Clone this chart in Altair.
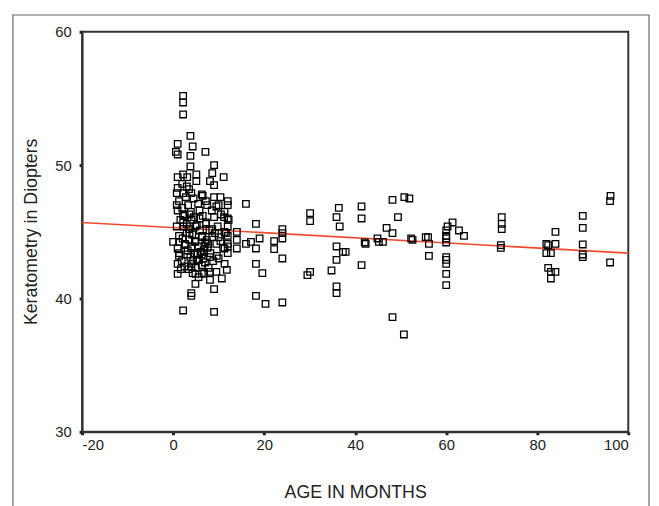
import altair as alt
import pandas as pd

# Scatter data: age in months vs keratometry (D)
age = [
    96.1, 96.0, 96.0, 90.0, 90.0, 90.0, 90.0, 90.0, 84.0, 84.0, 84.0, 82.0, 82.4, 82.0, 83.0, 82.4, 83.0, 83.0,
    72.2, 72.2, 72.2, 72.0, 72.0, 61.4, 62.8, 63.9, 60.3, 60.0, 60.0, 60.0, 60.0, 60.0, 60.0, 60.0, 60.0, 60.0,
    56.0, 55.5, 56.2, 56.2, 52.3, 52.6, 50.8, 51.9, 48.2, 49.4, 46.9, 48.2, 44.9, 45.2, 46.1, 42.1, 42.3,
    41.4, 41.4, 41.4, 48.2, 50.7, 36.4, 35.9, 36.6, 35.9, 37.3, 37.9, 35.9, 34.8, 35.9, 35.9,
    30.1, 30.1, 29.5, 30.1, 24.0, 24.0, 24.0, 24.0, 24.0, 22.2, 22.2, 20.3, 19.6, 19.0, 18.2, 18.2, 18.2, 18.2,
    17.1, 16.0, 16.0, 14.0, 14.0, 14.0,
    2.2, 2.2, 2.2, 3.8, 4.3, 1.0, 0.6, 1.0, 3.8, 7.1, 3.8, 9.0, 8.6, 9.0, 11.1, 5.1, 5.1, 1.0, 2.2, 3.1,
    8.1, 1.0, 0.8, 2.2, 4.0, 6.3, 9.0, 10.4, 12.0, 12.0, 10.0, 7.2, 1.3, 0.8, 1.0, 2.2, 3.6, 11.3, 12.0,
    9.0, 5.8, 4.0, 2.2, 7.2, 0.8, 4.9, 8.6, 12.0, 11.3, 3.6, 1.3, 6.3, 10.0, 12.0, 0.0, 1.3, 2.6, 4.9,
    7.7, 9.5, 12.0, 1.0, 4.0, 6.7, 11.3, 12.0, 1.3, 3.1, 5.4, 8.1, 10.0, 1.0, 4.0, 6.3, 11.3, 4.0, 11.8,
    8.1, 9.5, 1.0, 4.9, 6.3, 1.7, 10.7, 8.1, 4.9, 9.0, 4.0, 4.0, 2.2, 9.0,
    2.0, 2.5, 3.0, 3.5, 4.2, 4.8, 5.5, 6.0, 6.6, 7.0,
    2.8, 3.3, 3.9, 4.6, 5.2, 5.9, 6.4, 7.1, 7.6, 8.2,
    2.1, 2.7, 3.2, 3.8, 4.4, 5.0, 5.7, 6.3, 6.9, 7.4,
    1.6, 2.3, 3.0, 3.6, 4.1, 4.7, 5.3, 5.8, 6.5, 7.2,
    8.0, 8.6, 9.2, 9.8, 10.4, 11.0, 11.6, 12.2, 12.0, 11.2,
    1.3, 1.9, 2.5, 3.4, 4.3, 5.6, 6.8, 7.8, 8.8, 9.6,
    3.5, 4.5, 5.5, 6.5, 7.5, 8.5, 9.5, 10.5, 2.0, 3.0,
]
kerat = [
    47.7, 47.3, 42.7, 46.2, 45.3, 44.05, 43.3, 43.1, 45.0, 44.1, 42.0, 44.1, 44.0, 43.4, 43.4, 42.3, 42.0, 41.5,
    46.1, 45.6, 45.2, 44.0, 43.8, 45.7, 45.1, 44.7, 45.4, 45.1, 44.7, 44.5, 44.2, 43.1, 42.9, 42.6, 41.85, 41.0,
    44.6, 44.6, 44.1, 43.2, 44.5, 44.4, 47.6, 47.5, 47.4, 46.1, 45.3, 44.9, 44.5, 44.25, 44.25, 44.2, 44.1,
    46.9, 46.0, 42.5, 38.6, 37.3, 46.8, 46.1, 45.4, 43.9, 43.5, 43.5, 42.9, 42.1, 40.9, 40.4,
    46.4, 45.8, 41.75, 42.0, 45.2, 44.9, 44.5, 43.0, 39.7, 44.3, 43.7, 39.6, 41.9, 44.5, 45.6, 43.75, 42.6, 40.2,
    44.25, 44.1, 47.1, 45.0, 44.4, 43.75,
    55.2, 54.7, 53.8, 52.2, 51.4, 51.6, 51.0, 50.8, 50.7, 51.0, 49.9, 50.0, 49.4, 48.5, 49.1, 49.3, 48.8, 49.1, 49.3, 49.1,
    48.8, 48.3, 47.9, 47.9, 47.9, 47.8, 47.6, 47.6, 47.3, 47.0, 47.0, 47.3, 47.3, 47.0, 46.6, 46.3, 46.3, 46.5, 46.0,
    46.1, 46.0, 45.9, 45.7, 45.7, 45.4, 45.4, 45.2, 45.4, 45.0, 44.9, 44.7, 44.6, 44.6, 44.7, 44.25, 44.25, 44.1, 44.25,
    44.1, 44.1, 44.1, 43.75, 43.75, 43.6, 43.75, 43.4, 43.4, 43.3, 43.3, 43.1, 43.0, 42.6, 42.6, 42.5, 42.6, 42.4, 42.15,
    42.0, 42.0, 41.85, 41.85, 41.85, 42.2, 41.5, 41.4, 41.1, 40.7, 40.4, 40.2, 39.1, 39.0,
    46.8, 46.2, 45.6, 45.2, 44.8, 44.3, 43.9, 43.5, 43.0, 42.7,
    47.6, 47.0, 46.5, 46.1, 45.5, 45.1, 44.7, 44.2, 43.8, 43.4,
    44.5, 44.0, 43.6, 43.1, 42.8, 42.3, 42.9, 43.3, 43.9, 44.4,
    45.9, 45.4, 44.9, 44.4, 43.9, 43.4, 42.9, 46.6, 46.2, 45.6,
    45.1, 44.6, 44.9, 45.4, 44.3, 43.8, 44.9, 45.9, 43.9, 46.1,
    43.2, 42.8, 42.4, 42.2, 41.9, 41.6, 41.9, 42.3, 42.8, 43.2,
    48.2, 47.5, 47.1, 47.7, 47.0, 46.6, 46.9, 46.3, 48.6, 48.4,
]

# Fitted line endpoints
line_x = [-20, 100]
line_y = [45.7, 43.4]

x_ticks = [-20, 0, 20, 40, 60, 80, 100]
y_ticks = [30, 40, 50, 60]

pts = pd.DataFrame({"age": age, "k": kerat})
fit = pd.DataFrame({"age": line_x, "k": line_y})

FONT = "Liberation Sans"
x_scale = alt.Scale(domain=[-20, 100], nice=False, zero=False)
y_scale = alt.Scale(domain=[30, 60], nice=False, zero=False)

x_axis = alt.Axis(
    values=x_ticks, grid=False, title="AGE IN MONTHS",
    labelExpr="'' + datum.value",
    domainColor="#333", domainWidth=2,
    tickColor="#222", tickWidth=3, tickSize=3,
    labelFont=FONT, labelFontSize=15, labelColor="#222", labelPadding=3,
    titleFont=FONT, titleFontSize=18, titleFontWeight="normal", titleColor="#222",
    titleY=67, titleBaseline="alphabetic",
)
y_axis = alt.Axis(
    values=y_ticks, grid=False, title="Keratometry in Diopters",
    domainColor="#333", domainWidth=2,
    tickColor="#222", tickWidth=3, tickSize=3,
    labelFont=FONT, labelFontSize=15, labelColor="#222", labelPadding=8,
    titleFont=FONT, titleFontSize=18, titleFontWeight="normal", titleColor="#222",
    titleX=-42, titleY=202, titleBaseline="bottom", titleAngle=270,
)

points = alt.Chart(pts).mark_point(
    shape="square", filled=False, color="black", size=44, strokeWidth=1.3, opacity=1
).encode(
    x=alt.X("age:Q", scale=x_scale, axis=x_axis),
    y=alt.Y("k:Q", scale=y_scale, axis=y_axis),
)

line = alt.Chart(fit).mark_line(color="#f04a2c", strokeWidth=1.6).encode(
    x=alt.X("age:Q", scale=x_scale),
    y=alt.Y("k:Q", scale=y_scale),
)

border = alt.Chart(pd.DataFrame({"d": [0]})).mark_rect(
    fill="white", fillOpacity=0, stroke="#666", strokeWidth=1.2
).encode(
    x=alt.value(-70), x2=alt.value(574), y=alt.value(-17), y2=alt.value(490)
)

chart = alt.layer(border, line, points).properties(
    width=553, height=405,
    autosize=alt.AutoSizeParams(type="none"),
    padding={"left": 75, "top": 21, "right": 23, "bottom": 72},
).configure_view(stroke="#333", strokeWidth=2)

chart.save("out.html", embed_options={"renderer": "svg", "actions": False})
